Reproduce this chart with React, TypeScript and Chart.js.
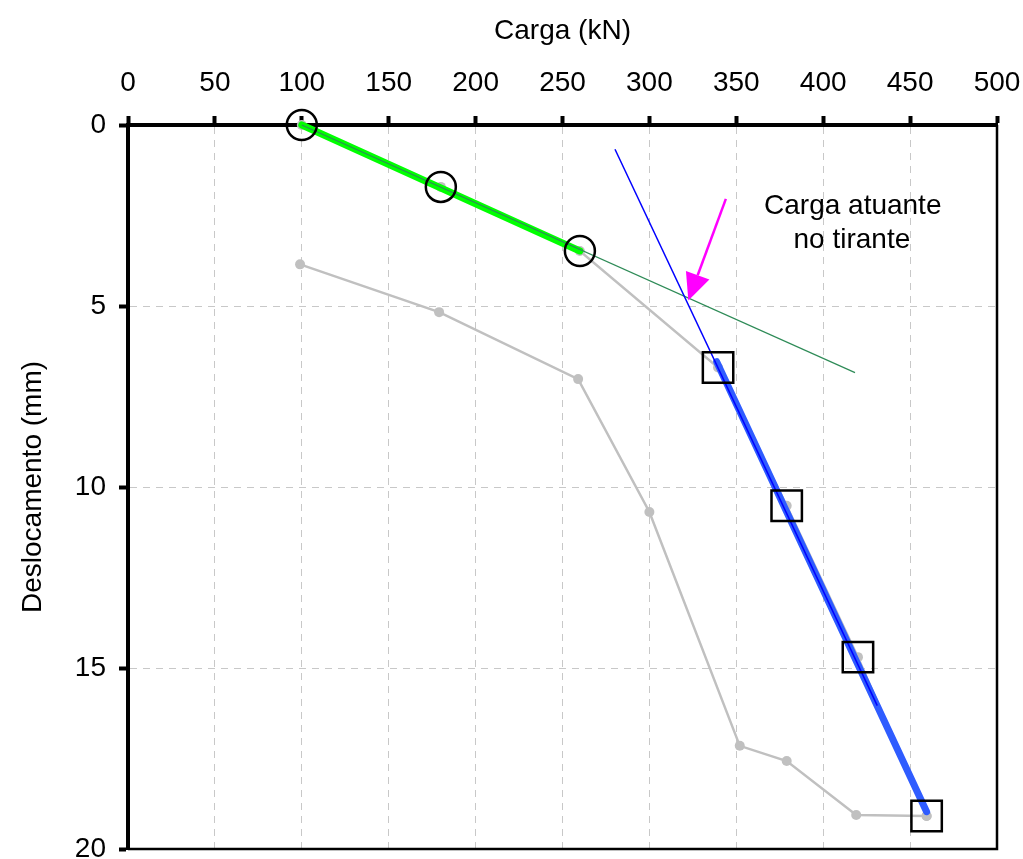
import { useEffect, useRef } from "react";
import { Chart, registerables } from "chart.js";

Chart.register(...registerables);

// Axis ticks
const X_TICKS = [0, 50, 100, 150, 200, 250, 300, 350, 400, 450, 500];
const Y_TICKS = [0, 5, 10, 15, 20];

// Loading curve (upper gray)
const loadX = [100, 180, 260, 339.5, 379, 420, 459.5];
const loadY = [0, 1.71, 3.48, 6.7, 10.52, 14.7, 19.09];

// Lower gray curve
const lowerX = [99, 179, 259, 300, 352, 379, 419, 459.5];
const lowerY = [3.85, 5.17, 7.02, 10.69, 17.15, 17.57, 19.06, 19.09];

// Green fit (first stage) and its extension
const greenFitX = [100, 260];
const greenFitY = [0, 3.48];
const greenExtX = [100, 418.3];
const greenExtY = [0, 6.84];

// Blue fit (second stage) and its extension
const blueFitX = [338.7, 459.5];
const blueFitY = [6.54, 18.97];
const blueExtX = [280.2, 431.1];
const blueExtY = [0.67, 16.04];

// Marker points
const circleX = [100, 180, 260];
const circleY = [0, 1.71, 3.48];
const squareX = [339.5, 379, 420, 459.5];
const squareY = [6.7, 10.52, 14.7, 19.09];

// Annotation
const arrowX = [344, 322.4];
const arrowY = [2.04, 4.85];
const noteLines = ["Carga atuante", "no tirante"];
const noteX = [417, 416.5];
const noteY = [2.46, 3.41];

const FONT = "'Liberation Sans', Arial, Helvetica, sans-serif";
const FS = 28;

const pts = (xs: number[], ys: number[]) => xs.map((x, i) => ({ x, y: ys[i] }));

const overlay = {
  id: "overlay",
  afterDatasetsDraw(chart: any) {
    const { ctx, chartArea: a, scales } = chart;
    const sx = scales.x;
    const sy = scales.y;
    ctx.save();
    // right & bottom frame
    ctx.strokeStyle = "#000";
    ctx.lineWidth = 2.5;
    ctx.beginPath();
    ctx.moveTo(a.right, a.top);
    ctx.lineTo(a.right, a.bottom);
    ctx.lineTo(a.left, a.bottom);
    ctx.stroke();

    // arrow
    const x1 = sx.getPixelForValue(arrowX[0]);
    const y1 = sy.getPixelForValue(arrowY[0]);
    const x2 = sx.getPixelForValue(arrowX[1]);
    const y2 = sy.getPixelForValue(arrowY[1]);
    const ang = Math.atan2(y2 - y1, x2 - x1);
    const headLen = 27;
    const headHalf = 12.5;
    const bx = x2 - headLen * Math.cos(ang);
    const by = y2 - headLen * Math.sin(ang);
    ctx.strokeStyle = "#ff00ff";
    ctx.fillStyle = "#ff00ff";
    ctx.lineWidth = 2.5;
    ctx.beginPath();
    ctx.moveTo(x1, y1);
    ctx.lineTo(bx, by);
    ctx.stroke();
    ctx.beginPath();
    ctx.moveTo(x2, y2);
    ctx.lineTo(bx + headHalf * Math.sin(ang), by - headHalf * Math.cos(ang));
    ctx.lineTo(bx - headHalf * Math.sin(ang), by + headHalf * Math.cos(ang));
    ctx.closePath();
    ctx.fill();

    // note text
    ctx.fillStyle = "#000";
    ctx.font = `${FS}px ${FONT}`;
    ctx.textAlign = "center";
    ctx.textBaseline = "alphabetic";
    noteLines.forEach((t, i) => {
      ctx.fillText(t, sx.getPixelForValue(noteX[i]), sy.getPixelForValue(noteY[i]));
    });
    ctx.restore();
  },
};

export default function App() {
  const ref = useRef<HTMLCanvasElement>(null);

  useEffect(() => {
    if (!ref.current) return;
    const gray = "#c0c0c0";
    const chart = new Chart(ref.current, {
      type: "scatter",
      data: {
        datasets: [
          {
            data: pts(squareX, squareY),
            showLine: false,
            pointStyle: "rect",
            pointRadius: 21.5,
            pointBackgroundColor: "rgba(0,0,0,0)",
            pointBorderColor: "#000",
            pointBorderWidth: 2.5,
            clip: false,
            order: 1,
          },
          {
            data: pts(circleX, circleY),
            showLine: false,
            pointStyle: "circle",
            pointRadius: 15,
            pointBackgroundColor: "rgba(0,0,0,0)",
            pointBorderColor: "#000",
            pointBorderWidth: 2.5,
            clip: false,
            order: 2,
          },
          {
            data: pts(blueExtX, blueExtY),
            showLine: true,
            borderColor: "#0000ff",
            borderWidth: 1.5,
            pointRadius: 0,
            clip: false,
            order: 3,
          },
          {
            data: pts(blueFitX, blueFitY),
            showLine: true,
            borderColor: "#2f5cff",
            borderWidth: 7,
            borderCapStyle: "round",
            pointRadius: 0,
            clip: false,
            order: 4,
          },
          {
            data: pts(greenExtX, greenExtY),
            showLine: true,
            borderColor: "#2e8b57",
            borderWidth: 1.2,
            pointRadius: 0,
            clip: false,
            order: 5,
          },
          {
            data: pts(greenFitX, greenFitY),
            showLine: true,
            borderColor: "#00ff00",
            borderWidth: 7,
            borderCapStyle: "round",
            pointRadius: 0,
            clip: false,
            order: 6,
          },
          {
            data: pts(loadX, loadY),
            showLine: true,
            borderColor: gray,
            borderWidth: 2.5,
            pointRadius: 5,
            pointBackgroundColor: gray,
            pointBorderColor: gray,
            pointBorderWidth: 0,
            clip: false,
            order: 7,
          },
          {
            data: pts(lowerX, lowerY),
            showLine: true,
            borderColor: gray,
            borderWidth: 2.5,
            pointRadius: 5,
            pointBackgroundColor: gray,
            pointBorderColor: gray,
            pointBorderWidth: 0,
            clip: false,
            order: 8,
          },
        ],
      },
      options: {
        animation: false,
        responsive: false,
        maintainAspectRatio: false,
        events: [],
        layout: { autoPadding: false, padding: { left: 0, top: 0, right: 26, bottom: 10 } },
        plugins: {
          legend: { display: false },
          tooltip: { enabled: false },
          title: { display: false },
        },
        scales: {
          x: {
            type: "linear",
            position: "top",
            min: 0,
            max: 500,
            afterBuildTicks: (s: any) => {
              s.ticks = X_TICKS.map((v) => ({ value: v }));
            },
            afterFit: (s: any) => {
              s.height = 125;
              s.paddingLeft = 0;
              s.paddingRight = 0;
            },
            ticks: {
              color: "#000",
              font: { family: FONT, size: FS },
              padding: 16,
              maxRotation: 0,
              autoSkip: false,
            },
            grid: {
              color: "#c8c8c8",
              lineWidth: 1,
              drawTicks: true,
              tickLength: 9,
              tickColor: "#000",
              tickWidth: 4,
            },
            border: { display: true, color: "#000", width: 4, dash: [7, 6] },
            title: {
              display: true,
              text: "Carga (kN)",
              color: "#000",
              font: { family: FONT, size: FS },
              padding: { top: 14, bottom: 0 },
            },
          },
          y: {
            type: "linear",
            position: "left",
            reverse: true,
            min: 0,
            max: 20,
            afterBuildTicks: (s: any) => {
              s.ticks = Y_TICKS.map((v) => ({ value: v }));
            },
            afterFit: (s: any) => {
              s.width = 128;
              s.paddingTop = 0;
              s.paddingBottom = 0;
            },
            ticks: {
              color: "#000",
              font: { family: FONT, size: FS },
              padding: 13,
              autoSkip: false,
            },
            grid: {
              color: "#c8c8c8",
              lineWidth: 1,
              drawTicks: true,
              tickLength: 9,
              tickColor: "#000",
              tickWidth: 4,
            },
            border: { display: true, color: "#000", width: 4, dash: [7, 6] },
            title: {
              display: true,
              text: "Deslocamento (mm)",
              color: "#000",
              font: { family: FONT, size: FS },
              padding: { top: 16, bottom: 0 },
            },
          },
        },
      },
      plugins: [overlay],
    } as any);
    return () => chart.destroy();
  }, []);

  return (
    <div style={{ position: "absolute", left: 0, top: 0, width: 1023, height: 859, background: "#fff" }}>
      <canvas ref={ref} width={1023} height={859} style={{ display: "block" }} />
    </div>
  );
}
